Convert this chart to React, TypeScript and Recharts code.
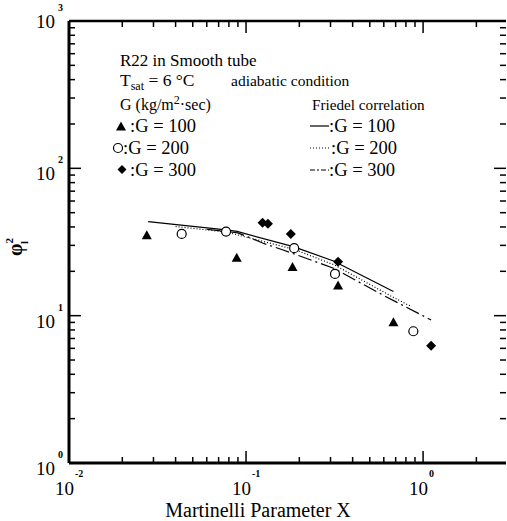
import { ScatterChart, Scatter, XAxis, YAxis } from "recharts";

// measured points, G in kg/m2 s
const g100X = [0.0275, 0.0886, 0.183, 0.331, 0.68];
const g100Y = [34.8, 24.5, 21.2, 15.9, 8.96];
const g200X = [0.0433, 0.0771, 0.187, 0.318, 0.881];
const g200Y = [35.9, 37.2, 28.7, 19.2, 7.84];
const g300X = [0.124, 0.133, 0.179, 0.331, 1.11];
const g300Y = [42.8, 42.0, 35.9, 23.2, 6.26];

// Friedel correlation curves
const fr100X = [0.028, 0.077, 0.089, 0.185, 0.312, 0.68];
const fr100Y = [43.5, 38.2, 37.3, 29.4, 23.5, 14.6];
const fr200X = [0.04, 0.077, 0.12, 0.187, 0.318, 0.68, 0.862];
const fr200Y = [40.3, 37.0, 32.3, 28.2, 22.0, 13.3, 11.5];
const fr300X = [0.06, 0.09, 0.125, 0.162, 0.312, 0.593, 1.11];
const fr300Y = [38.6, 36.5, 31.0, 27.9, 21.0, 13.8, 9.35];

const xTicks = [
  0.01, 0.02, 0.03, 0.04, 0.05, 0.06, 0.07, 0.08, 0.09,
  0.1, 0.2, 0.3, 0.4, 0.5, 0.6, 0.7, 0.8, 0.9,
  1, 2,
];
const yTicks = [
  1, 2, 3, 4, 5, 6, 7, 8, 9,
  10, 20, 30, 40, 50, 60, 70, 80, 90,
  100, 200, 300, 400, 500, 600, 700, 800, 900,
  1000,
];

const pts = (xs: number[], ys: number[]) => xs.map((x, i) => ({ x, y: ys[i] }));

const FONT = "'Liberation Serif', 'Times New Roman', serif";

const isMajor = (v: number) =>
  Math.abs(Math.log10(v) - Math.round(Math.log10(v))) < 1e-6;

function BottomTick(props: any) {
  const { x, y, payload } = props;
  const v = payload.value;
  const major = isMajor(v);
  return (
    <g>
      <path d={`M${x},${y}V${y - (major ? 12 : 6)}`} stroke="#000" strokeWidth={1.5} />
      {major && (
        <text fontFamily={FONT} fill="#000">
          <tspan x={x + 5} y={y + 32} fontSize={19} textAnchor="end">10</tspan>
          <tspan x={x + 6} y={y + 14} fontSize={10} fontWeight="bold">
            {Math.round(Math.log10(v))}
          </tspan>
        </text>
      )}
    </g>
  );
}

function TopTick(props: any) {
  const { x, y, payload } = props;
  const major = isMajor(payload.value);
  return <path d={`M${x},${y}V${y + (major ? 12 : 6)}`} stroke="#000" strokeWidth={1.5} />;
}

function LeftTick(props: any) {
  const { x, y, payload } = props;
  const v = payload.value;
  const major = isMajor(v);
  const base = v === 1000 ? y + 7 : y + 12;
  return (
    <g>
      <path d={`M${x},${y}H${x + (major ? 12 : 6)}`} stroke="#000" strokeWidth={1.5} />
      {major && (
        <text fontFamily={FONT} fill="#000">
          <tspan x={x - 14} y={base} fontSize={19} textAnchor="end">10</tspan>
          <tspan x={x - 11} y={base - 17} fontSize={10} fontWeight="bold">
            {Math.round(Math.log10(v))}
          </tspan>
        </text>
      )}
    </g>
  );
}

function RightTick(props: any) {
  const { x, y, payload } = props;
  const major = isMajor(payload.value);
  return <path d={`M${x},${y}H${x - (major ? 12 : 6)}`} stroke="#000" strokeWidth={1.5} />;
}

const Triangle = (p: any) => (
  <path d={`M${p.cx},${p.cy - 5.5}L${p.cx + 5},${p.cy + 3.5}L${p.cx - 5},${p.cy + 3.5}Z`} fill="#000" />
);
const Circle = (p: any) => (
  <circle cx={p.cx} cy={p.cy} r={4.5} fill="#fff" stroke="#000" strokeWidth={1.2} />
);
const Diamond = (p: any) => (
  <path d={`M${p.cx},${p.cy - 5}L${p.cx + 5},${p.cy}L${p.cx},${p.cy + 5}L${p.cx - 5},${p.cy}Z`} fill="#000" />
);
const NoDot = () => <g />;

function Notes() {
  const s = { fontFamily: FONT, fontSize: 17, fill: "#000" } as const;
  const g = { fontFamily: FONT, fontSize: 18.5, fill: "#000" } as const;
  return (
    <svg
      width={507}
      height={521}
      style={{ position: "absolute", left: 0, top: 0, pointerEvents: "none" }}
    >
      <text x={120} y={66} {...s}>R22 in Smooth tube</text>
      <text x={120} y={86} {...s} fontSize={17.5}>
        T<tspan fontSize={12} dy={4}>sat</tspan>
        <tspan dy={-4}> = 6 °C</tspan>
      </text>
      <text x={231} y={86} {...s} fontSize={15.5}>adiabatic condition</text>
      <text x={120} y={110} {...s} fontSize={16}>
        G (kg/m<tspan fontSize={12} dy={-6}>2</tspan>
        <tspan dy={6}>·sec)</tspan>
      </text>
      <text x={312} y={110} {...s} fontSize={15.2}>Friedel correlation</text>

      <path d="M121,121.5L126,130.5L116,130.5Z" fill="#000" />
      <text x={130} y={132} {...g}>:G = 100</text>
      <circle cx={118} cy={148} r={4.5} fill="#fff" stroke="#000" strokeWidth={1.2} />
      <text x={123} y={154} {...g}>:G = 200</text>
      <path d="M122,165L126.5,169.5L122,174L117.5,169.5Z" fill="#000" />
      <text x={130} y={176} {...g}>:G = 300</text>

      <line x1={310} x2={329} y1={126} y2={126} stroke="#000" strokeWidth={1.2} />
      <text x={329} y={132} {...g}>:G = 100</text>
      <line x1={310} x2={329} y1={148} y2={148} stroke="#000" strokeWidth={1.2} strokeDasharray="1 2" />
      <text x={331} y={154} {...g}>:G = 200</text>
      <line x1={310} x2={329} y1={170} y2={170} stroke="#000" strokeWidth={1.2} strokeDasharray="5 2 2 2" />
      <text x={329} y={176} {...g}>:G = 300</text>

      <text x={258} y={517} fontFamily={FONT} fontSize={20} textAnchor="middle" fill="#000">
        Martinelli Parameter X
      </text>
      <text
        x={22}
        y={247}
        fontFamily={FONT}
        fontSize={20}
        fontWeight="bold"
        textAnchor="middle"
        fill="#000"
        transform="rotate(-90 22 247)"
      >
        φ<tspan fontSize={11} dy={-9}>2</tspan>
        <tspan fontSize={11} dx={-6} dy={15}>l</tspan>
      </text>
    </svg>
  );
}

export default function App() {
  return (
    <div style={{ position: "absolute", left: 0, top: 0, width: 507, height: 521, background: "#fff" }}>
      <ScatterChart width={507} height={521} margin={{ top: 20, right: 0, bottom: 57, left: 68 }}>
        <XAxis
          xAxisId="b"
          dataKey="x"
          type="number"
          scale="log"
          domain={[0.01, 2.94]}
          ticks={xTicks}
          interval={0}
          height={1}
          tickSize={0}
          tickMargin={0}
          tickLine={false}
          axisLine={{ stroke: "#000", strokeWidth: 3 }}
          tick={<BottomTick />}
          zIndex={900}
        />
        <YAxis
          yAxisId="l"
          dataKey="y"
          type="number"
          scale="log"
          domain={[1, 1000]}
          ticks={yTicks}
          interval={0}
          width={1}
          tickSize={0}
          tickMargin={0}
          tickLine={false}
          axisLine={{ stroke: "#000", strokeWidth: 3 }}
          tick={<LeftTick />}
          zIndex={900}
        />
        <XAxis
          xAxisId="t"
          dataKey="x"
          orientation="top"
          type="number"
          scale="log"
          domain={[0.01, 2.94]}
          ticks={xTicks}
          interval={0}
          height={1}
          tickSize={0}
          tickMargin={0}
          tickLine={false}
          axisLine={{ stroke: "#000", strokeWidth: 2.5 }}
          tick={<TopTick />}
          zIndex={900}
        />
        <YAxis
          yAxisId="r"
          dataKey="y"
          orientation="right"
          type="number"
          scale="log"
          domain={[1, 1000]}
          ticks={yTicks}
          interval={0}
          width={1}
          tickSize={0}
          tickMargin={0}
          tickLine={false}
          axisLine={false}
          tick={<RightTick />}
          zIndex={900}
        />

        {/* hidden series so the top / right frame axes share the data */}
        <Scatter xAxisId="t" yAxisId="r" data={pts(g100X, g100Y)} shape={NoDot} isAnimationActive={false} />

        <Scatter
          xAxisId="b"
          yAxisId="l"
          data={pts(fr100X, fr100Y)}
          line={{ stroke: "#000", strokeWidth: 1.2 }}
          shape={NoDot}
          isAnimationActive={false}
        />
        <Scatter
          xAxisId="b"
          yAxisId="l"
          data={pts(fr200X, fr200Y)}
          line={{ stroke: "#000", strokeWidth: 1.2, strokeDasharray: "1 2" }}
          shape={NoDot}
          isAnimationActive={false}
        />
        <Scatter
          xAxisId="b"
          yAxisId="l"
          data={pts(fr300X, fr300Y)}
          line={{ stroke: "#000", strokeWidth: 1.2, strokeDasharray: "14 4 2 4" }}
          shape={NoDot}
          isAnimationActive={false}
        />

        <Scatter xAxisId="b" yAxisId="l" data={pts(g100X, g100Y)} shape={Triangle} isAnimationActive={false} />
        <Scatter xAxisId="b" yAxisId="l" data={pts(g200X, g200Y)} shape={Circle} isAnimationActive={false} />
        <Scatter xAxisId="b" yAxisId="l" data={pts(g300X, g300Y)} shape={Diamond} isAnimationActive={false} />
      </ScatterChart>
      <Notes />
    </div>
  );
}
